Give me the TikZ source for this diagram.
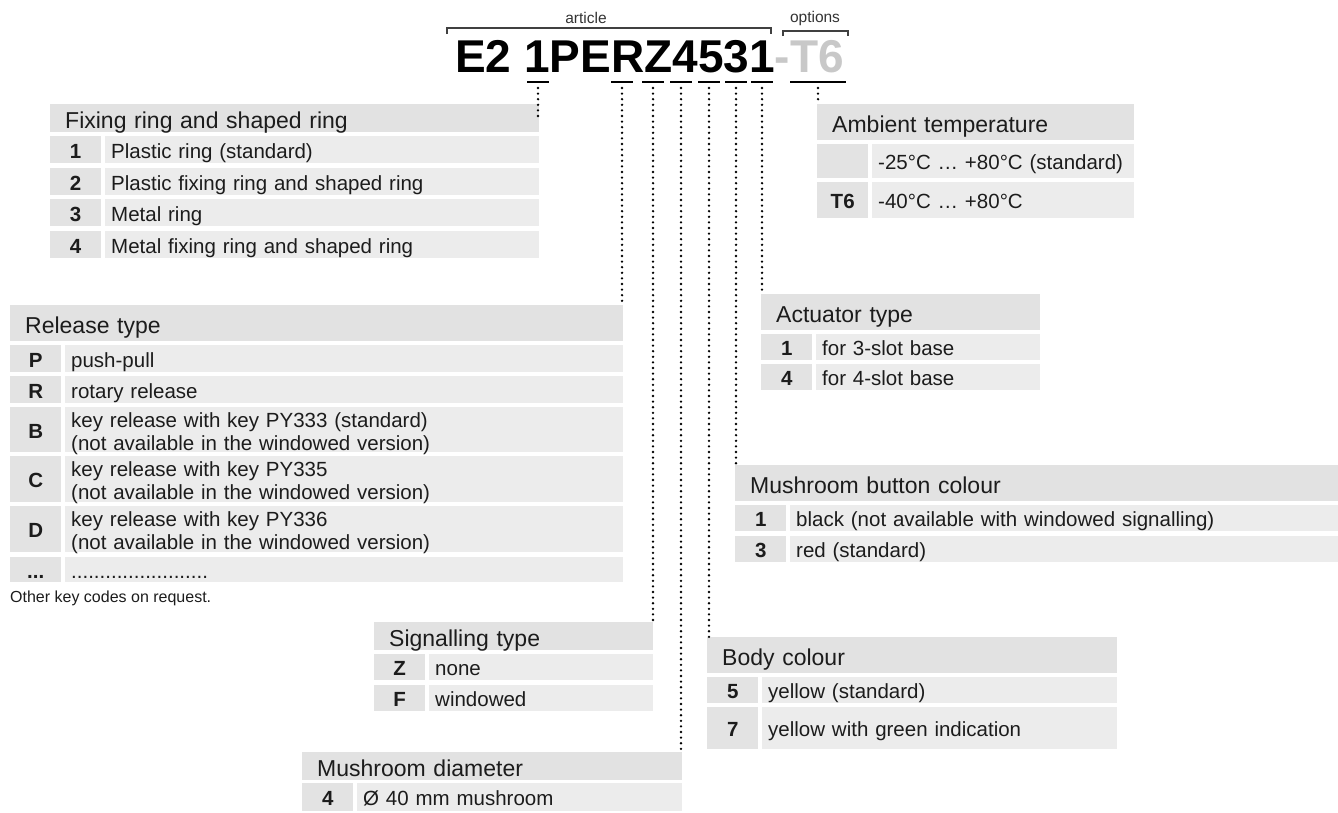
\documentclass[tikz,border=0pt]{standalone}
\usepackage{fontspec}
\setmainfont{Liberation Sans}
\usetikzlibrary{calc}
\definecolor{hdrgray}{HTML}{E2E2E2}
\definecolor{keygray}{HTML}{E3E3E3}
\definecolor{rowgray}{HTML}{ECECEC}
\definecolor{codegray}{HTML}{C8C8C8}
\definecolor{ink}{HTML}{1C1C1C}

\begin{document}
\begin{tikzpicture}[x=1pt,y=-1pt,
    head/.style={fill=hdrgray,anchor=north west,inner xsep=15pt,inner ysep=0pt,align=left,minimum height=#1,text height=20.5pt,text depth=0pt,text=ink,font=\fontsize{23}{27}\selectfont},
    keycell/.style={fill=keygray,anchor=north west,inner sep=0pt,text width=51pt,align=center,minimum height=#1,text height=17.5pt,text depth=0pt,text=ink,font=\bfseries\fontsize{20.5}{23}\selectfont},
    txtcell/.style={fill=rowgray,anchor=north west,inner xsep=6pt,inner ysep=0pt,align=left,minimum height=#1,text height=17.5pt,text depth=0pt,text=ink,font=\fontsize{20.5}{23}\selectfont},
    twoline/.style={text depth=22.8pt},
    codetxt/.style={anchor=base west,inner sep=0pt,font=\bfseries\fontsize{46}{50}\selectfont},
    brklabel/.style={inner sep=0pt,text=black!80,font=\fontsize{15.5}{18}\selectfont},
    brk/.style={line width=1.3pt,black!75},
    uline/.style={line width=2.5pt,black},
    leader/.style={line width=2.6pt,dash pattern=on 0pt off 5.6pt,line cap=round}
  ]
  \useasboundingbox (0,0) rectangle (1338,812);

  % article code
  \node[brklabel] (artl) at (586,18) {article};
  \node[brklabel] (optl) at (815,18) {options};
  \draw[brk] (447,34) |- (771,28) -- (771,34);
  \draw[brk] (783,36) |- (848,31) -- (848,36);
  \node[codetxt] (code) at (455,72) {E2 1PERZ4531\textcolor{codegray}{-T6}};

  \coordinate (ufix) at (538,82);
  \coordinate (urel) at (622,82);
  \coordinate (usig) at (653,82);
  \coordinate (udia) at (681,82);
  \coordinate (ubody) at (709,82);
  \coordinate (ubtn) at (736,82);
  \coordinate (uact) at (762,82);
  \coordinate (utemp) at (818,82);
  \draw[uline] ([xshift=-11pt]ufix) -- ([xshift=11pt]ufix);
  \draw[uline] ([xshift=-11pt]urel) -- ([xshift=11pt]urel);
  \draw[uline] ([xshift=-11pt]usig) -- ([xshift=11pt]usig);
  \draw[uline] ([xshift=-11pt]udia) -- ([xshift=11pt]udia);
  \draw[uline] ([xshift=-11pt]ubody) -- ([xshift=11pt]ubody);
  \draw[uline] ([xshift=-11pt]ubtn) -- ([xshift=11pt]ubtn);
  \draw[uline] ([xshift=-11pt]uact) -- ([xshift=11pt]uact);
  \draw[uline] ([xshift=-28pt]utemp) -- ([xshift=28pt]utemp);

  % fixing ring
  \node[head=28pt,text width=459pt] (fixh) at (50,104) {Fixing ring and shaped ring};
  \node[keycell=27pt] (fix1k) at (50,136) {1};
  \node[txtcell=27pt,text width=422pt] (fix1) at (105,136) {Plastic ring (standard)};
  \node[keycell=27pt] (fix2k) at (50,168) {2};
  \node[txtcell=27pt,text width=422pt] (fix2) at (105,168) {Plastic fixing ring and shaped ring};
  \node[keycell=27pt] (fix3k) at (50,199) {3};
  \node[txtcell=27pt,text width=422pt] (fix3) at (105,199) {Metal ring};
  \node[keycell=27pt] (fix4k) at (50,231) {4};
  \node[txtcell=27pt,text width=422pt] (fix4) at (105,231) {Metal fixing ring and shaped ring};

  % ambient temperature
  \node[head=36pt,text width=287pt] (temph) at (817,104) {Ambient temperature};
  \node[keycell=34pt] (temp1k) at (817,144) {};
  \node[txtcell=34pt,text width=250pt] (temp1) at (872,144) {-25°C … +80°C (standard)};
  \node[keycell=36pt] (temp2k) at (817,182) {T6};
  \node[txtcell=36pt,text width=250pt] (temp2) at (872,182) {-40°C … +80°C};

  % release type
  \node[head=36pt,text width=583pt] (relh) at (10,305) {Release type};
  \node[keycell=27pt] (relPk) at (10,345) {P};
  \node[txtcell=27pt,text width=546pt] (relP) at (65,345) {push-pull};
  \node[keycell=27pt] (relRk) at (10,376) {R};
  \node[txtcell=27pt,text width=546pt] (relR) at (65,376) {rotary release};
  \node[keycell=45pt] (relBk) at (10,407) {B};
  \node[txtcell=45pt,twoline,text width=546pt] (relB) at (65,407) {key release with key PY333 (standard)\\(not available in the windowed version)};
  \node[keycell=46pt] (relCk) at (10,456) {C};
  \node[txtcell=46pt,twoline,text width=546pt] (relC) at (65,456) {key release with key PY335\\(not available in the windowed version)};
  \node[keycell=46pt] (relDk) at (10,506) {D};
  \node[txtcell=46pt,twoline,text width=546pt] (relD) at (65,506) {key release with key PY336\\(not available in the windowed version)};
  \node[keycell=25pt] (relXk) at (10,557) {...};
  \node[txtcell=25pt,text width=546pt] (relX) at (65,557) {........................};
  \node[anchor=west,inner sep=0pt,text=ink,font=\fontsize{16}{19}\selectfont] (relnote) at (10,598) {Other key codes on request.};

  % actuator type
  \node[head=36pt,text width=249pt] (acth) at (761,294) {Actuator type};
  \node[keycell=26pt] (act1k) at (761,334) {1};
  \node[txtcell=26pt,text width=212pt] (act1) at (816,334) {for 3-slot base};
  \node[keycell=26pt] (act4k) at (761,364) {4};
  \node[txtcell=26pt,text width=212pt] (act4) at (816,364) {for 4-slot base};

  % mushroom button colour
  \node[head=36pt,text width=573pt] (btnh) at (735,465) {Mushroom button colour};
  \node[keycell=26pt] (btn1k) at (735,505) {1};
  \node[txtcell=26pt,text width=536pt] (btn1) at (790,505) {black (not available with windowed signalling)};
  \node[keycell=26pt] (btn3k) at (735,536) {3};
  \node[txtcell=26pt,text width=536pt] (btn3) at (790,536) {red (standard)};

  % body colour
  \node[head=36pt,text width=380pt] (bodyh) at (707,637) {Body colour};
  \node[keycell=26pt] (body5k) at (707,677) {5};
  \node[txtcell=26pt,text width=343pt] (body5) at (762,677) {yellow (standard)};
  \node[keycell=42pt] (body7k) at (707,707) {7};
  \node[txtcell=42pt,text width=343pt] (body7) at (762,707) {yellow with green indication};

  % signalling type
  \node[head=28pt,text width=249pt] (sigh) at (374,622) {Signalling type};
  \node[keycell=26pt] (sigZk) at (374,654) {Z};
  \node[txtcell=26pt,text width=212pt] (sigZ) at (429,654) {none};
  \node[keycell=26pt] (sigFk) at (374,685) {F};
  \node[txtcell=26pt,text width=212pt] (sigF) at (429,685) {windowed};

  % mushroom diameter
  \node[head=28pt,text width=350pt] (diah) at (302,752) {Mushroom diameter};
  \node[keycell=28pt] (dia4k) at (302,783) {4};
  \node[txtcell=28pt,text width=313pt] (dia4) at (357,783) {Ø 40 mm mushroom};

  % leaders
  \draw[leader] ([yshift=-6pt]ufix) -- (ufix |- fixh.east);
  \draw[leader] ([yshift=-6pt]urel) -- (urel |- relh.north);
  \draw[leader] ([yshift=-6pt]usig) -- (usig |- sigh.north);
  \draw[leader] ([yshift=-6pt]udia) -- (udia |- diah.north);
  \draw[leader] ([yshift=-6pt]ubody) -- (ubody |- bodyh.north);
  \draw[leader] ([yshift=-6pt]ubtn) -- (ubtn |- btnh.north);
  \draw[leader] ([yshift=-6pt]uact) -- (uact |- acth.north);
  \draw[leader] ([yshift=-6pt]utemp) -- (utemp |- temph.north);
\end{tikzpicture}
\end{document}
